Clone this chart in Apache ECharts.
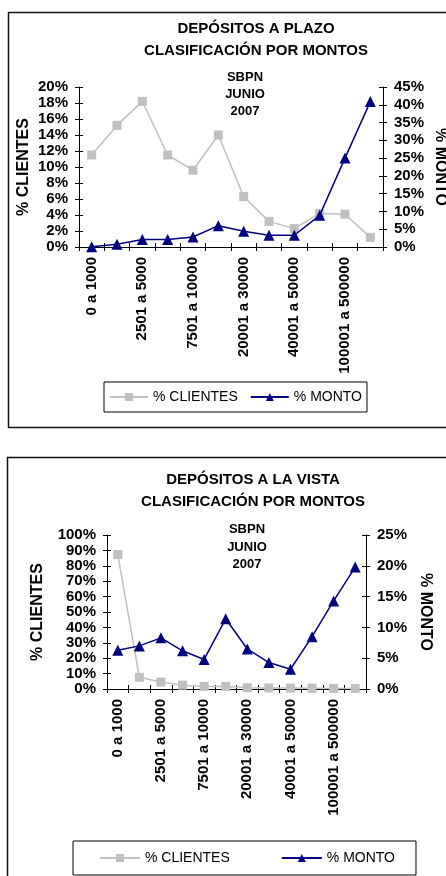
<!DOCTYPE html>
<html>
<head>
<meta charset="utf-8">
<script src="https://cdn.jsdelivr.net/npm/echarts@6/dist/echarts.min.js"></script>
<style>
  html, body { margin: 0; padding: 0; background: #fff; }
  #chart { width: 446px; height: 876px; }
</style>
</head>
<body>
<div id="chart"></div>
<script>
// Tramos de montos (eje de categorías)
const categories = [
  '0 a 1000', '1001 a 2500', '2501 a 5000', '5001 a 7500',
  '7501 a 10000', '10001 a 20000', '20001 a 30000', '30001 a 40000',
  '40001 a 50000', '50001 a 100000', '100001 a 500000', 'Más de 500000'
];

// Depósitos a plazo (%)
const plazoClientes = [11.5, 15.2, 18.2, 11.5, 9.6, 14.0, 6.3, 3.2, 2.3, 4.2, 4.1, 1.2];
const plazoMonto    = [0.1, 0.8, 2.1, 2.1, 2.8, 6.0, 4.4, 3.3, 3.3, 8.9, 25.0, 40.9];

// Depósitos a la vista (%)
const vistaClientes = [87.3, 7.6, 4.5, 2.5, 1.7, 1.7, 0.8, 0.7, 0.6, 0.5, 0.4, 0.3];
const vistaMonto    = [6.3, 7.0, 8.3, 6.2, 4.8, 11.4, 6.5, 4.3, 3.2, 8.5, 14.3, 19.8];

// Escalas de los ejes
const plazoLeftTicks  = { min: 0, max: 20,  interval: 2 };
const plazoRightTicks = { min: 0, max: 45,  interval: 5 };
const vistaLeftTicks  = { min: 0, max: 100, interval: 10 };
const vistaRightTicks = { min: 0, max: 25,  interval: 5 };

const FONT = '"Liberation Sans", Arial, sans-serif';
const BLACK = '#000';
const GREY = '#c0c0c0';
const NAVY = '#000080';

const pct = v => v + '%';

function mainX(grid) {
  return {
    type: 'category', gridIndex: grid, data: categories, boundaryGap: true,
    axisLine: { show: true, lineStyle: { color: BLACK, width: 1 } },
    axisTick: { show: true, interval: 0, length: 4, lineStyle: { color: BLACK } },
    axisLabel: {
      interval: 1, rotate: 90, margin: 10, color: BLACK,
      fontFamily: FONT, fontWeight: 'bold', fontSize: 15
    },
    splitLine: { show: false }
  };
}
// Second copy of the category axis: draws the inner half of the crossing ticks
function innerX(grid) {
  return {
    type: 'category', gridIndex: grid, data: categories, boundaryGap: true,
    position: 'bottom',
    axisLine: { show: false },
    axisTick: { show: true, inside: true, interval: 0, length: 4, lineStyle: { color: BLACK } },
    axisLabel: { show: false },
    splitLine: { show: false }
  };
}
function mainY(grid, side, scale, name, nameGap, nameRotate) {
  return {
    type: 'value', gridIndex: grid, position: side,
    min: scale.min, max: scale.max, interval: scale.interval,
    name: name, nameLocation: 'middle', nameGap: nameGap, nameRotate: nameRotate,
    nameMoveOverlap: false,
    nameTextStyle: { color: BLACK, fontFamily: FONT, fontWeight: 'bold', fontSize: 16 },
    axisLine: { show: true, lineStyle: { color: BLACK, width: 1 } },
    axisTick: { show: true, length: 4, lineStyle: { color: BLACK } },
    axisLabel: {
      formatter: pct, margin: 11, color: BLACK,
      fontFamily: FONT, fontWeight: 'bold', fontSize: 15
    },
    splitLine: { show: false }
  };
}
function innerY(grid, side, scale) {
  return {
    type: 'value', gridIndex: grid, position: side,
    min: scale.min, max: scale.max, interval: scale.interval,
    axisLine: { show: false },
    axisTick: { show: true, inside: true, length: 4, lineStyle: { color: BLACK } },
    axisLabel: { show: false },
    splitLine: { show: false }
  };
}

function clientesSeries(x, y, data) {
  return {
    name: '% CLIENTES', type: 'line', xAxisIndex: x, yAxisIndex: y, data: data,
    symbol: 'rect', symbolSize: 9, showAllSymbol: true,
    lineStyle: { color: GREY, width: 1.5 },
    itemStyle: { color: GREY },
    emphasis: { disabled: true }, z: 2
  };
}
function montoSeries(x, y, data) {
  return {
    name: '% MONTO', type: 'line', xAxisIndex: x, yAxisIndex: y, data: data,
    symbol: 'triangle', symbolSize: 11, showAllSymbol: true,
    lineStyle: { color: NAVY, width: 1.5 },
    itemStyle: { color: NAVY },
    emphasis: { disabled: true }, z: 3
  };
}

function legendAt(left, top, padding, itemWidth, itemGap) {
  return {
    left: left, top: top, orient: 'horizontal',
    data: ['% CLIENTES', '% MONTO'],
    borderColor: BLACK, borderWidth: 1, borderRadius: 0,
    padding: padding, itemWidth: itemWidth, itemHeight: 10, itemGap: itemGap,
    selectedMode: false,
    textStyle: { color: BLACK, fontFamily: FONT, fontSize: 14, fontWeight: 'normal' }
  };
}

function textEl(str, x, y, size) {
  return {
    type: 'text', x: x, y: y, silent: true,
    style: {
      text: str, fill: BLACK, align: 'center', verticalAlign: 'middle',
      font: 'bold ' + size + 'px ' + FONT
    }
  };
}

const chart = echarts.init(document.getElementById('chart'), null, { renderer: 'canvas' });

chart.setOption({
  animation: false,
  backgroundColor: '#fff',
  grid: [
    { left: 79, top: 87, width: 304, height: 160, outerBoundsMode: 'none', containLabel: false },
    { left: 107, top: 535, width: 259, height: 154, outerBoundsMode: 'none', containLabel: false }
  ],
  xAxis: [mainX(0), innerX(0), mainX(1), innerX(1)],
  yAxis: [
    mainY(0, 'left', plazoLeftTicks, '% CLIENTES', 47, 90),
    mainY(0, 'right', plazoRightTicks, '% MONTO', 49, -90),
    innerY(0, 'left', plazoLeftTicks),
    innerY(0, 'right', plazoRightTicks),
    mainY(1, 'left', vistaLeftTicks, '% CLIENTES', 61, 90),
    mainY(1, 'right', vistaRightTicks, '% MONTO', 51, -90),
    innerY(1, 'left', vistaLeftTicks),
    innerY(1, 'right', vistaRightTicks)
  ],
  legend: [
    legendAt(104, 382, [8, 5, 8, 5], 38, 12),
    legendAt(73, 841, [10, 21, 10, 26], 40, 51)
  ],
  series: [
    clientesSeries(0, 0, plazoClientes),
    montoSeries(0, 1, plazoMonto),
    clientesSeries(2, 4, vistaClientes),
    montoSeries(2, 5, vistaMonto)
  ],
  graphic: [
    // chart frames
    { type: 'rect', silent: true, z: -1,
      shape: { x: 8.5, y: 12.5, width: 460, height: 415 },
      style: { fill: 'none', stroke: '#111', lineWidth: 1.5 } },
    { type: 'rect', silent: true, z: -1,
      shape: { x: 7.5, y: 457.5, width: 460, height: 440 },
      style: { fill: 'none', stroke: '#111', lineWidth: 1.5 } },
    // titles
    textEl('DEPÓSITOS A PLAZO', 256, 29, 15),
    textEl('CLASIFICACIÓN POR MONTOS', 256, 51, 15),
    textEl('SBPN', 245, 77, 13),
    textEl('JUNIO', 245, 94, 13),
    textEl('2007', 245, 111, 13),
    textEl('DEPÓSITOS A LA VISTA', 253, 480, 15),
    textEl('CLASIFICACIÓN POR MONTOS', 253, 502, 15),
    textEl('SBPN', 247, 529, 13),
    textEl('JUNIO', 247, 547, 13),
    textEl('2007', 247, 564, 13)
  ]
});
</script>
</body>
</html>
